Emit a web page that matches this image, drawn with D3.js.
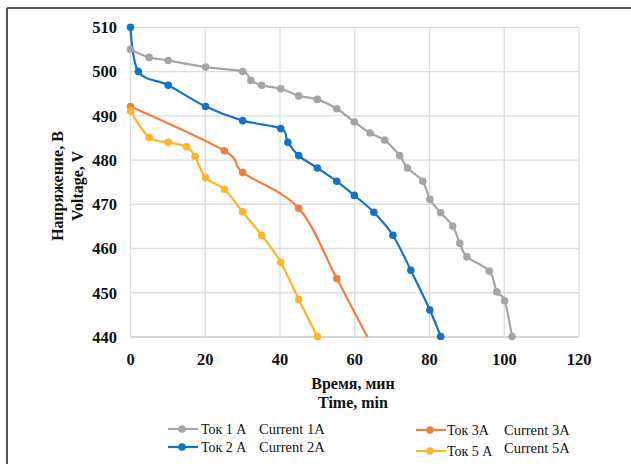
<!DOCTYPE html>
<html><head><meta charset="utf-8">
<script src="https://cdn.jsdelivr.net/npm/d3@7"></script>
<style>body{margin:0;background:#fff}svg{display:block}</style>
</head><body>
<svg id="c" width="631" height="464"></svg>
<script>
const xTicks = [0, 20, 40, 60, 80, 100, 120];
const yTicks = [440, 450, 460, 470, 480, 490, 500, 510];

const s1x = [0, 5, 10.1, 20.1, 30, 32.2, 35.1, 40.2, 45, 50, 55.2, 59.9, 64.1, 68, 72, 74.1, 78.2, 80.1, 83, 86.2, 88.1, 90, 96, 98, 100.1, 102.1];
const s1y = [505, 503.2, 502.5, 501, 500, 498, 496.9, 496.1, 494.5, 493.7, 491.6, 488.6, 486.1, 484.5, 481, 478.2, 475.2, 471.1, 468.1, 465.1, 461.2, 458.1, 454.9, 450.2, 448.2, 440.1];
const s2x = [0, 2.1, 10.1, 20.1, 30, 40.2, 42.1, 45, 50, 55.2, 59.9, 65.1, 70.2, 75, 80.1, 83];
const s2y = [510, 500, 496.9, 492.1, 488.9, 487.1, 484, 481, 478.2, 475.2, 472, 468.2, 463, 455.1, 446.1, 440.1];
const s3x = [0, 25.1, 30, 45, 55.2, 65];
const s3y = [492.1, 482.1, 477.2, 469.1, 453.2, 437.4];
const s5x = [0, 5, 10.1, 15, 17.3, 20.1, 25.1, 30, 35.1, 40.2, 45, 50];
const s5y = [491.1, 485.1, 484, 483, 480.8, 476, 473.4, 468.3, 463, 456.9, 448.5, 440.1];

const seriesNames = ["Ток 1 A", "Ток 2 A", "Ток 3A", "Ток 5 A"];
const seriesEn = ["Current 1A", "Current 2A", "Current 3A", "Current 5A"];
const colors = ["#a5a5a5", "#1672c2", "#f07f3e", "#fdb42a"];
const series = [[s1x, s1y], [s2x, s2y], [s3x, s3y], [s5x, s5y]];

const svg = d3.select("#c");
const x = d3.scaleLinear().domain([0, 120]).range([130.5, 579]);
const y = d3.scaleLinear().domain([440, 510]).range([337, 27.3]);
const serif = "'Liberation Serif','Times New Roman',serif";

// frame
svg.append("line").attr("x1", 7).attr("x2", 631).attr("y1", 8).attr("y2", 8).attr("stroke", "#222").attr("stroke-width", 1.6);
svg.append("line").attr("x1", 7).attr("x2", 7).attr("y1", 8).attr("y2", 464).attr("stroke", "#555").attr("stroke-width", 2);

// grid
const g = svg.append("g");
g.selectAll(".gy").data(yTicks).join("line")
  .attr("x1", x(0)).attr("x2", x(120)).attr("y1", d => y(d)).attr("y2", d => y(d))
  .attr("stroke", d => d === 440 ? "#c8c8c8" : "#dcdcdc").attr("stroke-width", 1.3);
g.selectAll(".gx").data(xTicks).join("line")
  .attr("x1", d => x(d)).attr("x2", d => x(d)).attr("y1", y(440)).attr("y2", y(510))
  .attr("stroke", "#dcdcdc").attr("stroke-width", 1.3);

// tick labels
svg.selectAll(".yt").data(yTicks).join("text")
  .attr("x", 117).attr("y", d => y(d)).attr("dy", "0.35em").attr("text-anchor", "end")
  .attr("font-family", serif).attr("font-weight", "bold").attr("font-size", 16.5).attr("fill", "#111")
  .text(d => d);
svg.selectAll(".xt").data(xTicks).join("text")
  .attr("x", d => x(d)).attr("y", 359).attr("dy", "0.35em").attr("text-anchor", "middle")
  .attr("font-family", serif).attr("font-weight", "bold").attr("font-size", 16.5).attr("fill", "#111")
  .text(d => d);

// axis titles
svg.append("text").attr("transform", "translate(57,186) rotate(-90)").attr("text-anchor", "middle").attr("dy", "0.35em")
  .attr("font-family", serif).attr("font-weight", "bold").attr("font-size", 16).attr("fill", "#111").text("Напряжение, В");
svg.append("text").attr("transform", "translate(77,186) rotate(-90)").attr("text-anchor", "middle").attr("dy", "0.35em")
  .attr("font-family", serif).attr("font-weight", "bold").attr("font-size", 16).attr("fill", "#111").text("Voltage, V");
svg.append("text").attr("x", 353).attr("y", 383).attr("text-anchor", "middle").attr("dy", "0.35em")
  .attr("font-family", serif).attr("font-weight", "bold").attr("font-size", 16).attr("fill", "#111").text("Время, мин");
svg.append("text").attr("x", 353).attr("y", 402).attr("text-anchor", "middle").attr("dy", "0.35em")
  .attr("font-family", serif).attr("font-weight", "bold").attr("font-size", 16).attr("fill", "#111").text("Time, min");

// clip for lines only
svg.append("clipPath").attr("id", "pc").append("rect")
  .attr("x", x(0) - 6).attr("y", y(510) - 6).attr("width", x(120) - x(0) + 12).attr("height", y(440) - y(510) + 6);

const line = d3.line().x(d => x(d[0])).y(d => y(d[1])).curve(d3.curveCardinal.tension(0));
const plot = svg.append("g").attr("clip-path", "url(#pc)");
const marks = svg.append("g");
series.forEach((s, i) => {
  const pts = s[0].map((v, k) => [v, s[1][k]]);
  plot.append("path").datum(pts).attr("d", line).attr("fill", "none")
    .attr("stroke", colors[i]).attr("stroke-width", 2.2);
  marks.selectAll(null).data(pts.filter(p => p[1] >= 440)).join("circle")
    .attr("cx", p => x(p[0])).attr("cy", p => y(p[1])).attr("r", 3.8).attr("fill", colors[i]);
});

// legend
const leg = [
  {lx: 168, ty: 429, tx: 201, ex: 259},
  {lx: 168, ty: 447, tx: 201, ex: 259},
  {lx: 416, ty: 430, tx: 447, ex: 504},
  {lx: 416, ty: 451, tx: 447, ex: 504}
];
const enY = [429, 447, 430, 448];
leg.forEach((L, i) => {
  svg.append("line").attr("x1", L.lx).attr("x2", L.lx + 30).attr("y1", L.ty).attr("y2", L.ty)
    .attr("stroke", colors[i]).attr("stroke-width", 2.2);
  svg.append("circle").attr("cx", L.lx + 14).attr("cy", L.ty).attr("r", 3.8).attr("fill", colors[i]);
  svg.append("text").attr("x", L.tx).attr("y", L.ty).attr("dy", "0.35em")
    .attr("font-family", serif).attr("font-size", 14).attr("fill", "#111").text(seriesNames[i]);
  svg.append("text").attr("x", L.ex).attr("y", enY[i]).attr("dy", "0.35em")
    .attr("font-family", serif).attr("font-size", 14.5).attr("fill", "#111").text(seriesEn[i]);
});
</script>
</body></html>
